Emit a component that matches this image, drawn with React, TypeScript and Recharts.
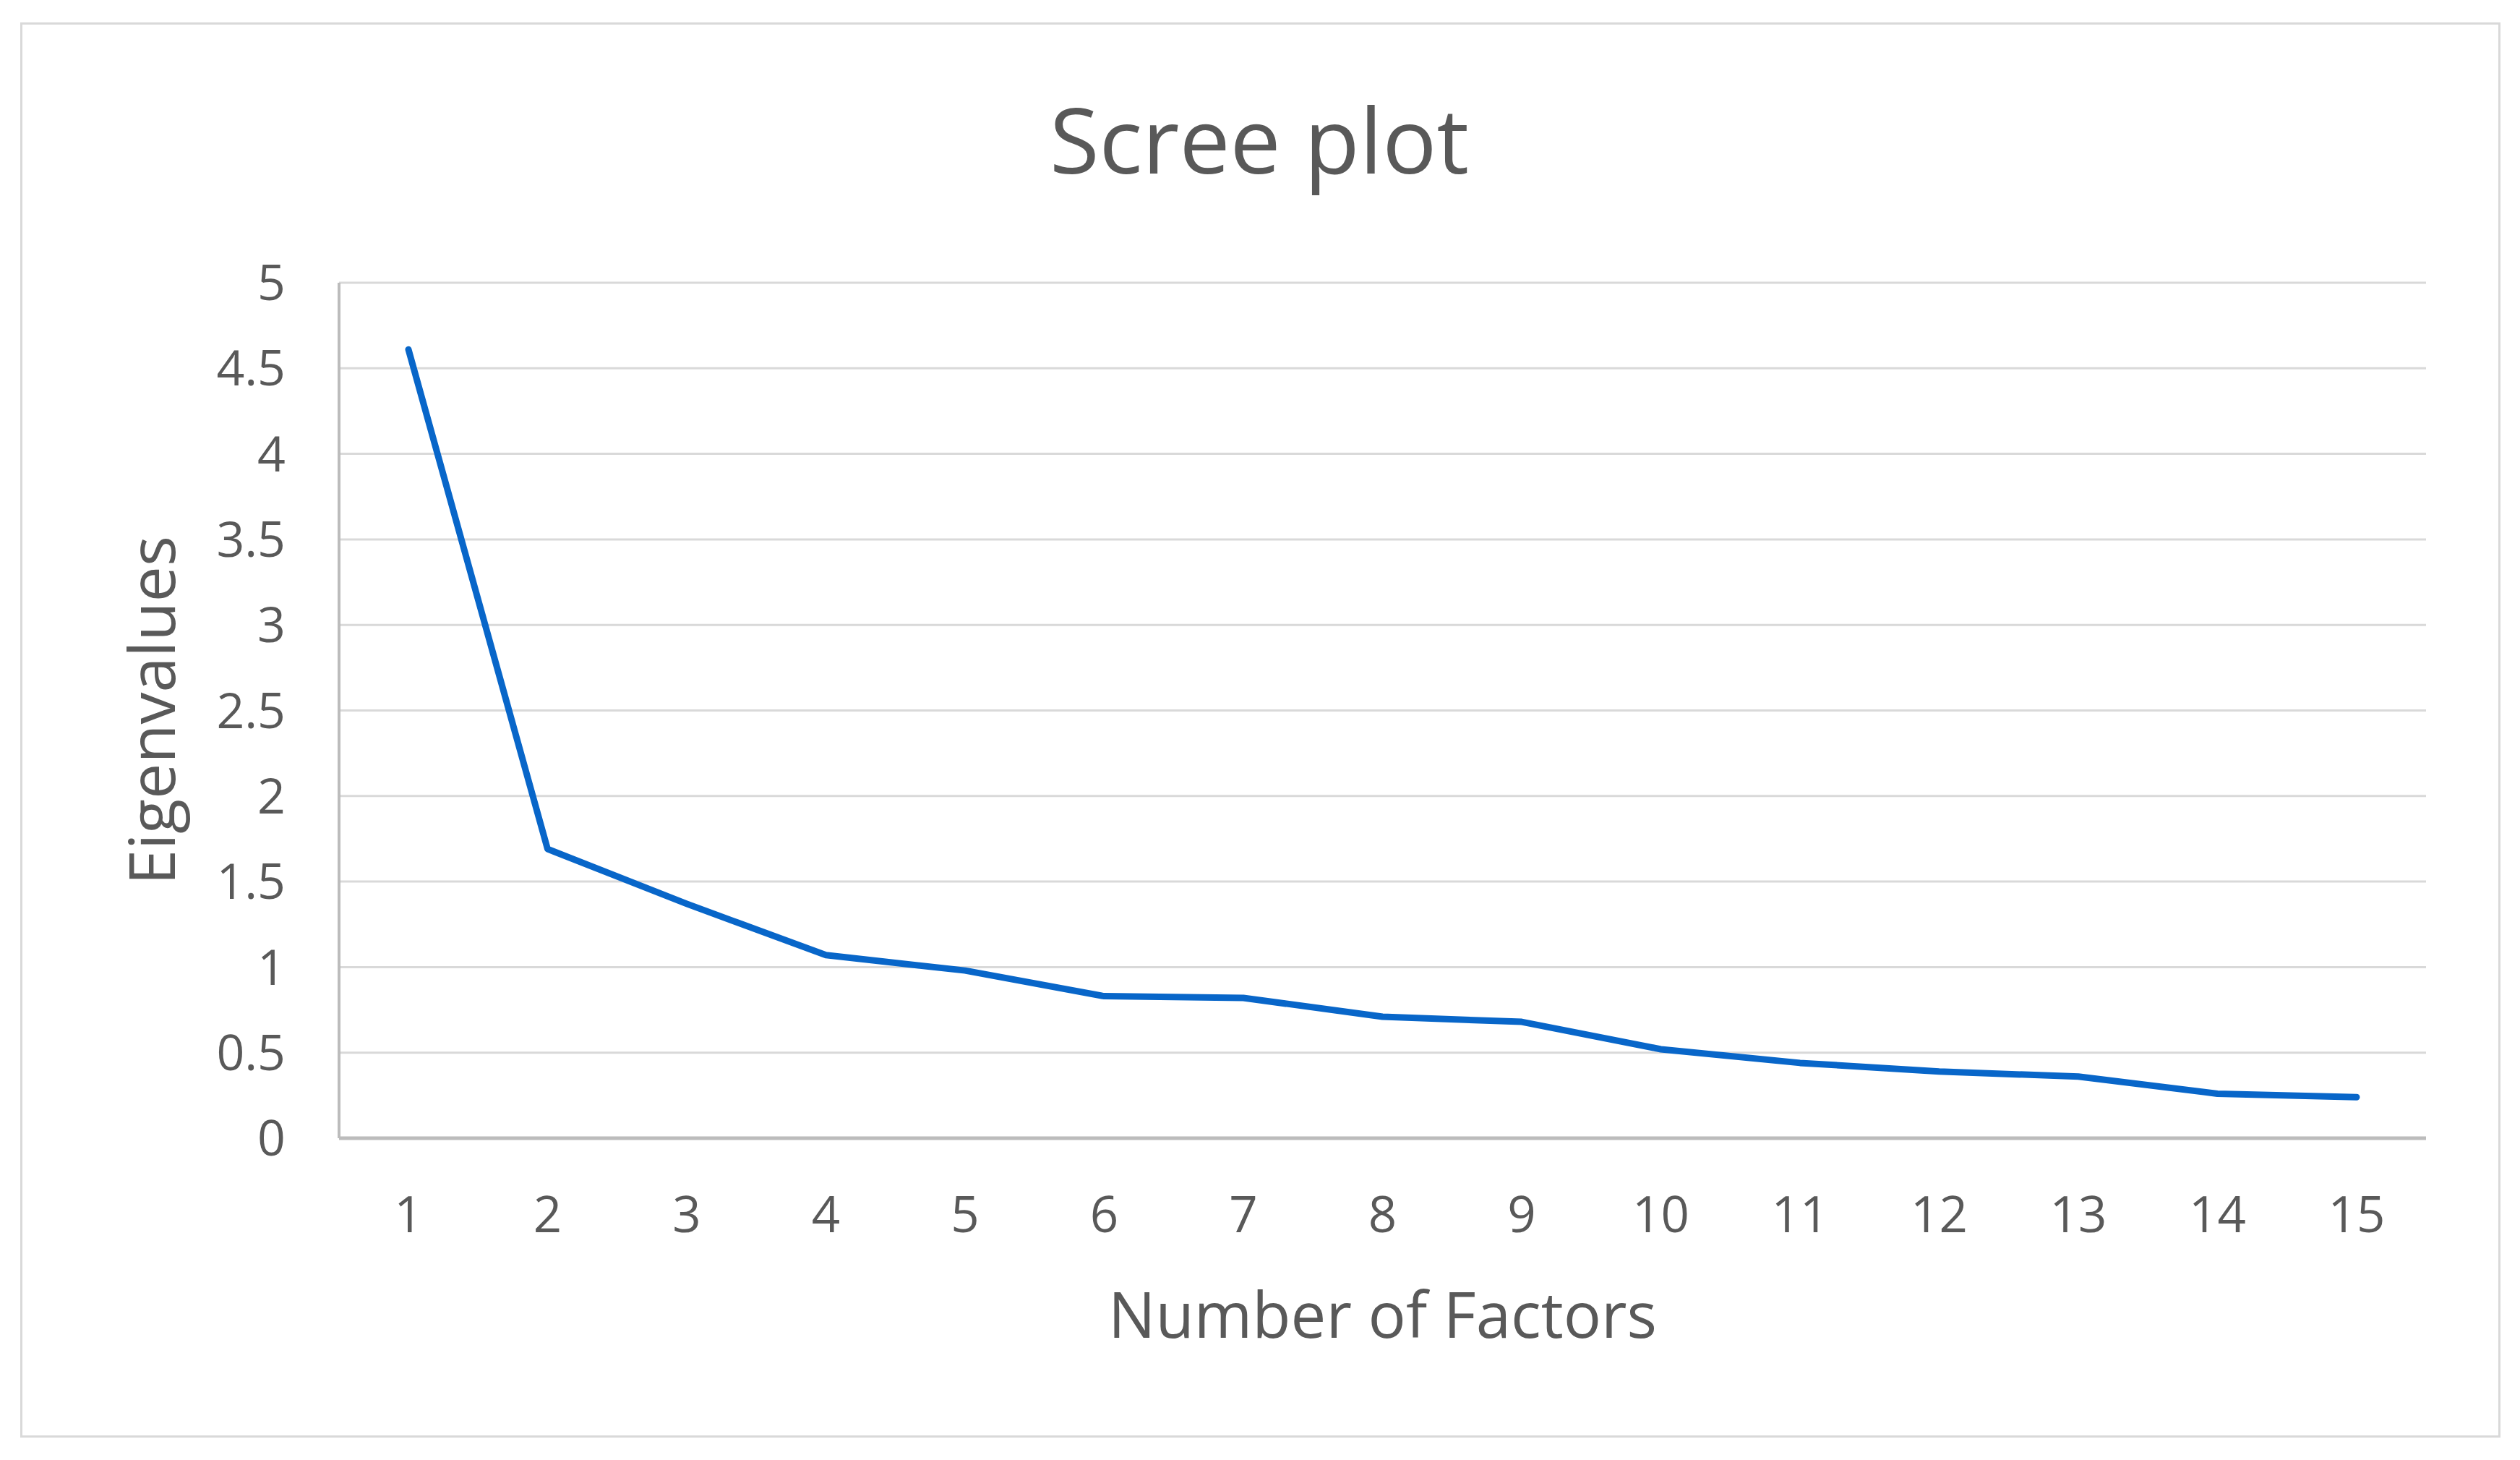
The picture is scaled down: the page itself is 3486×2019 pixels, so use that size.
import { LineChart, Line, XAxis, YAxis, CartesianGrid, Label } from "recharts";

const factors = ["1", "2", "3", "4", "5", "6", "7", "8", "9", "10", "11", "12", "13", "14", "15"];
const eigenvalues = [4.61, 1.69, 1.37, 1.07, 0.98, 0.83, 0.82, 0.71, 0.68, 0.52, 0.44, 0.39, 0.36, 0.26, 0.24];
const yTicks = [0, 0.5, 1, 1.5, 2, 2.5, 3, 3.5, 4, 4.5, 5];

const data = factors.map((f, i) => ({ factor: f, value: eigenvalues[i] }));

const W = 3486;
const H = 2019;
const font = '"Open Sans", "Noto Sans", sans-serif';
const textColor = "#595959";

export default function App() {
  return (
    <div
      style={{
        position: "absolute",
        left: 0,
        top: 0,
        width: W,
        height: H,
        background: "#fff",
        fontFamily: font,
      }}
    >
      {/* chart area border */}
      <div
        style={{
          position: "absolute",
          left: 28,
          top: 31,
          width: 3431,
          height: 1957,
          border: "3px solid #d9d9d9",
          boxSizing: "border-box",
        }}
      />
      <div style={{ position: "absolute", left: 0, top: 0 }}>
        <LineChart
          width={W}
          height={H}
          data={data}
          margin={{ top: 391, right: 130, bottom: 145, left: 0 }}
        >
          <CartesianGrid vertical={false} stroke="#d9d9d9" strokeWidth={3} />
          <XAxis
            dataKey="factor"
            height={300}
            interval={0}
            padding={{ left: 96, right: 96 }}
            axisLine={{ stroke: "#bcbcbc", strokeWidth: 5 }}
            tickLine={false}
            tickMargin={75}
            tick={{ fontSize: 69, fill: textColor, fontFamily: font }}
          >
            <Label
              value="Number of Factors"
              position="insideBottom"
              offset={24}
              fontSize={87}
              fill={textColor}
              fontFamily={font}
            />
          </XAxis>
          <YAxis
            width={469}
            domain={[0, 5]}
            ticks={yTicks}
            interval={0}
            axisLine={{ stroke: "#bcbcbc", strokeWidth: 4 }}
            tickLine={false}
            tickMargin={68}
            tick={{ fontSize: 68, fill: textColor, fontFamily: font }}
          >
            <Label
              value="Eigenvalues"
              angle={-90}
              position="insideLeft"
              offset={211}
              textAnchor="middle"
              fontSize={88}
              fill={textColor}
              fontFamily={font}
            />
          </YAxis>
          <Line
            type="linear"
            dataKey="value"
            stroke="#0866c9"
            strokeWidth={9}
            strokeLinecap="round"
            strokeLinejoin="round"
            dot={false}
            activeDot={false}
            isAnimationActive={false}
          />
        </LineChart>
      </div>
      <svg
        width={W}
        height={H}
        style={{ position: "absolute", left: 0, top: 0, pointerEvents: "none" }}
      >
        <text
          x={1742}
          y={240}
          textAnchor="middle"
          fontSize={125}
          fill={textColor}
          fontFamily={font}
        >
          Scree plot
        </text>
      </svg>
    </div>
  );
}
